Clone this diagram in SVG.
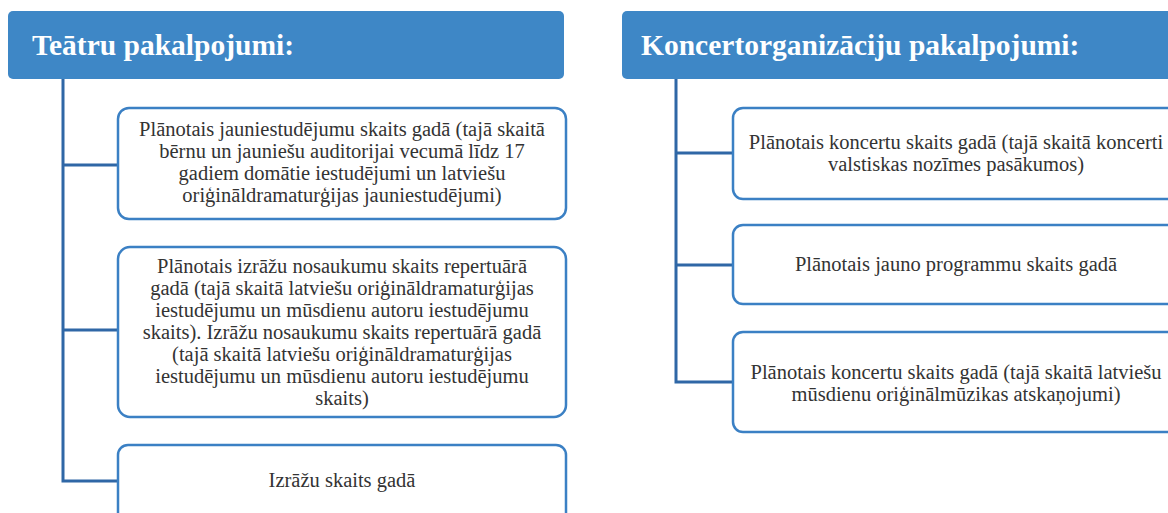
<svg xmlns="http://www.w3.org/2000/svg" width="1168" height="513" viewBox="0 0 1168 513">
<style>
.hdr{fill:#3e87c6;}
.hdrt{font-family:"Liberation Serif","Times New Roman",serif;font-weight:bold;font-size:29.5px;fill:#ffffff;}
.box{fill:#ffffff;stroke:#3b80c4;stroke-width:2.5;}
.t{font-family:"Liberation Serif","Times New Roman",serif;font-size:20.5px;fill:#333333;text-anchor:middle;}
.con{fill:none;stroke:#2f67a6;stroke-width:3;}
</style>
<rect width="1168" height="513" fill="#ffffff"/>
<g id="connectors">
<path class="con" d="M63 79 V481 H118 M63 165 H118 M63 330 H118"/>
<path class="con" d="M676 79 V382 H733 M676 153 H733 M676 265 H733"/>
</g>
<g id="hdr-teatru">
<rect class="hdr" x="8" y="11" width="556" height="68" rx="5"/>
<text class="hdrt" x="32" y="55">Teātru pakalpojumi:</text>
</g>
<g id="t1">
<rect class="box" x="118" y="108" width="448" height="111" rx="11"/>
<text class="t"><tspan x="342" y="136">Plānotais jauniestudējumu skaits gadā  (tajā skaitā</tspan><tspan x="342" y="158">bērnu un jauniešu auditorijai vecumā līdz 17</tspan><tspan x="342" y="180">gadiem domātie iestudējumi un latviešu</tspan><tspan x="342" y="202">oriģināldramaturģijas jauniestudējumi)</tspan></text>
</g>
<g id="t2">
<rect class="box" x="118" y="247" width="448" height="170" rx="12"/>
<text class="t"><tspan x="342" y="273">Plānotais izrāžu nosaukumu skaits repertuārā</tspan><tspan x="342" y="295">gadā (tajā skaitā  latviešu oriģināldramaturģijas</tspan><tspan x="342" y="317">iestudējumu un mūsdienu autoru iestudējumu</tspan><tspan x="342" y="339">skaits). Izrāžu nosaukumu skaits repertuārā gadā</tspan><tspan x="342" y="361">(tajā skaitā latviešu oriģināldramaturģijas</tspan><tspan x="342" y="383">iestudējumu un  mūsdienu autoru iestudējumu</tspan><tspan x="342" y="405">skaits)</tspan></text>
</g>
<g id="t3">
<rect class="box" x="118" y="445" width="448" height="85" rx="10"/>
<text class="t" x="342" y="487">Izrāžu skaits gadā</text>
</g>
<g id="hdr-koncert">
<rect class="hdr" x="622" y="11" width="556" height="68" rx="5"/>
<text class="hdrt" x="641" y="55">Koncertorganizāciju pakalpojumi:</text>
</g>
<g id="k1">
<rect class="box" x="733" y="108" width="447" height="91" rx="10"/>
<text class="t"><tspan x="956" y="149">Plānotais koncertu skaits gadā (tajā skaitā koncerti</tspan><tspan x="956" y="171">valstiskas nozīmes pasākumos)</tspan></text>
</g>
<g id="k2">
<rect class="box" x="733" y="225" width="447" height="79" rx="10"/>
<text class="t" x="956" y="271">Plānotais jauno programmu skaits gadā</text>
</g>
<g id="k3">
<rect class="box" x="733" y="332" width="447" height="100" rx="10"/>
<text class="t"><tspan x="956" y="379">Plānotais koncertu skaits gadā (tajā skaitā latviešu</tspan><tspan x="956" y="401">mūsdienu oriģinālmūzikas atskaņojumi)</tspan></text>
</g>
</svg>
